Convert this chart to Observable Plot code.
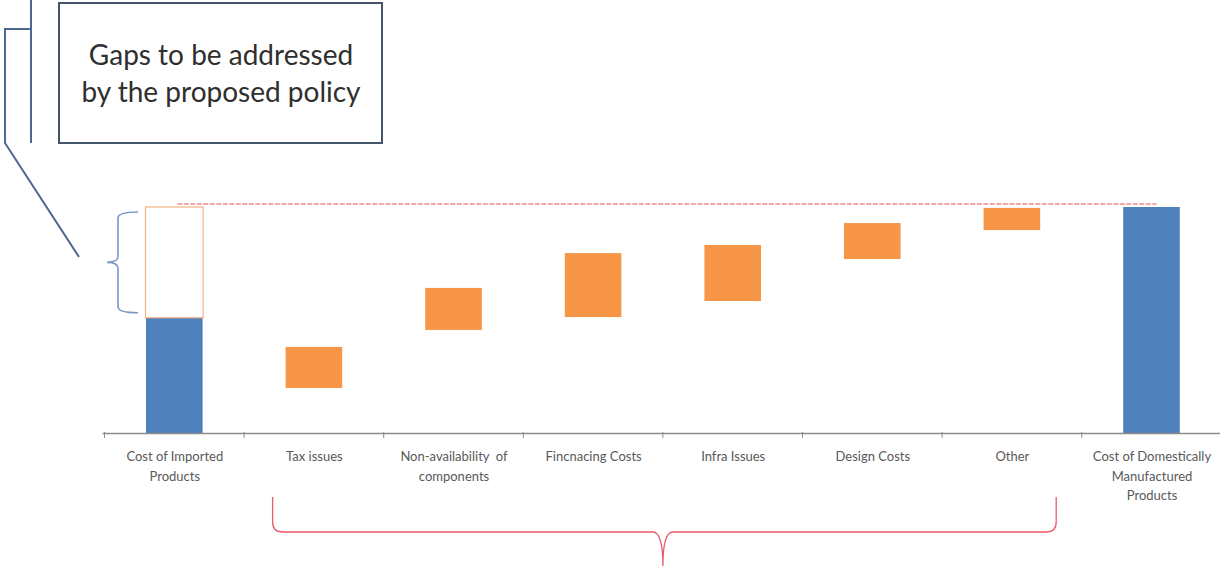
<!DOCTYPE html>
<html>
<head>
<meta charset="utf-8">
<script src="https://cdn.jsdelivr.net/npm/d3@7"></script>
<script src="https://cdn.jsdelivr.net/npm/@observablehq/plot@0.6"></script>
<style>
  html, body { margin: 0; padding: 0; background: #fff; }
  #chart { position: relative; width: 1220px; height: 571px; overflow: hidden; }
</style>
</head>
<body>
<div id="chart"></div>
<script>
// ---- data ----
const categories = [
  "Cost of Imported Products",
  "Tax issues",
  "Non-availability of components",
  "Fincnacing Costs",
  "Infra Issues",
  "Design Costs",
  "Other",
  "Cost of Domestically Manufactured Products"
];
const tickLabels = [
  "Cost of Imported\nProducts",
  "Tax issues",
  "Non-availability  of\ncomponents",
  "Fincnacing Costs",
  "Infra Issues",
  "Design Costs",
  "Other",
  "Cost of Domestically\nManufactured\nProducts"
];
const totalCategories = ["Cost of Imported Products", "Cost of Domestically Manufactured Products"];
const totalValues = [51, 100];
const gapCategories = ["Tax issues", "Non-availability of components", "Fincnacing Costs", "Infra Issues", "Design Costs", "Other"];
const gapLow = [19.9, 45.6, 51.3, 58.4, 77.0, 89.8];
const gapHigh = [38.1, 64.2, 79.6, 83.2, 92.9, 99.6];
const calloutLines = ["Gaps to be addressed", "by the proposed policy"];

// ---- tables built from arrays ----
const totals = totalCategories.map((c, i) => ({c, v: totalValues[i]}));
const gaps = gapCategories.map((c, i) => ({c, lo: gapLow[i], hi: gapHigh[i]}));
const hollow = [{c: totalCategories[0], lo: totalValues[0], hi: totalValues[1]}];

const inset = 41.5;
const plot = Plot.plot({
  width: 1220,
  height: 571,
  marginLeft: 104.5,
  marginRight: -1.3,
  marginTop: 207,
  marginBottom: 138,
  style: {fontFamily: "Lato, 'Open Sans', sans-serif", fontSize: "13px", color: "#595959", background: "white"},
  x: {domain: categories, padding: 0, round: false, label: null},
  y: {domain: [0, 100], axis: null},
  marks: [
    Plot.axisX({
      tickSize: 0, tickPadding: 14, fontSize: 13, lineHeight: 1.5, fill: "#595959",
      tickFormat: d => tickLabels[categories.indexOf(d)]
    }),
    Plot.barY(totals, {x: "c", y: "v", fill: "#4f81bd", insetLeft: inset, insetRight: inset}),
    Plot.barY(hollow, {x: "c", y1: "lo", y2: "hi", fill: "none", stroke: "#f4b183", strokeWidth: 1.2, insetLeft: inset - 0.5, insetRight: inset - 0.5}),
    Plot.barY(gaps, {x: "c", y1: "lo", y2: "hi", fill: "#f79646", insetLeft: inset, insetRight: inset}),
    Plot.ruleY([0], {stroke: "#8c8c8c", strokeWidth: 1.3, insetLeft: -2})
  ]
});
document.getElementById("chart").appendChild(plot);

// ---- annotations positioned from plot scales ----
const xs = plot.scale("x"), ys = plot.scale("y");
const bw = xs.bandwidth;
const xStart = c => xs.apply(c);
const xMid = c => xs.apply(c) + bw / 2;
const svg = d3.select(plot);
const g = svg.append("g");

// category boundary ticks
const y0 = ys.apply(0);
g.selectAll("line.tk").data(categories).join("line")
  .attr("x1", d => xStart(d)).attr("x2", d => xStart(d))
  .attr("y1", y0 - 1).attr("y2", y0 + 5)
  .attr("stroke", "#8c8c8c").attr("stroke-width", 1);

// red dashed reference line at the domestic cost level
const yRef = ys.apply(totalValues[1]) - 3;
g.append("line")
  .attr("x1", xMid(categories[0]) + 3).attr("x2", xMid(categories[categories.length - 1]) + 5)
  .attr("y1", yRef).attr("y2", yRef)
  .attr("stroke", "#ee8a8a").attr("stroke-width", 1.5).attr("stroke-dasharray", "5,1.5");

// blue brace to the left of the gap
const bx = xStart(categories[0]) + inset - 28;   // vertical spine
const yT = ys.apply(totalValues[1]) + 5, yB = ys.apply(totalValues[0]) - 5;
const yM = (yT + yB) / 2;
g.append("path")
  .attr("d", `M${bx + 20},${yT} Q${bx},${yT} ${bx},${yT + 6} L${bx},${yM - 6} Q${bx},${yM} ${bx - 11},${yM} Q${bx},${yM} ${bx},${yM + 6} L${bx},${yB - 6} Q${bx},${yB} ${bx + 20},${yB}`)
  .attr("fill", "none").attr("stroke", "#7b97c7").attr("stroke-width", 1.6);

// connector from brace to callout box
g.append("path")
  .attr("d", `M31,0 L31,143 M31,29 L5,29 L5,143 L${bx - 39},257`)
  .attr("fill", "none").attr("stroke", "#4e6791").attr("stroke-width", 2);

// callout box
g.append("rect").attr("x", 59).attr("y", 3).attr("width", 323).attr("height", 140)
  .attr("fill", "white").attr("stroke", "#44546a").attr("stroke-width", 2);
g.selectAll("text.callout").data(calloutLines).join("text")
  .attr("x", 221).attr("y", (d, i) => 58 + i * 37)
  .attr("text-anchor", "middle").attr("dominant-baseline", "middle")
  .attr("font-family", "Lato, sans-serif").attr("font-size", 28)
  .attr("fill", "#2f2f2f").text(d => d);

// red brace under the gap categories
const L = xStart(gapCategories[0]) + inset - 13;
const R = xStart(gapCategories[gapCategories.length - 1]) + bw - inset + 16;
const C = (xMid(gapCategories[0]) + xMid(gapCategories[gapCategories.length - 1])) / 2;
const yTop = 497, yH = 532, yTip = 566;
g.append("path")
  .attr("d", `M${L},${yTop} L${L},${yH - 10} Q${L},${yH} ${L + 10},${yH} L${C - 10},${yH} Q${C},${yH} ${C},${yTip} Q${C},${yH} ${C + 10},${yH} L${R - 10},${yH} Q${R},${yH} ${R},${yH - 10} L${R},${yTop}`)
  .attr("fill", "none").attr("stroke", "#e85a6a").attr("stroke-width", 1.3);
</script>
</body>
</html>
